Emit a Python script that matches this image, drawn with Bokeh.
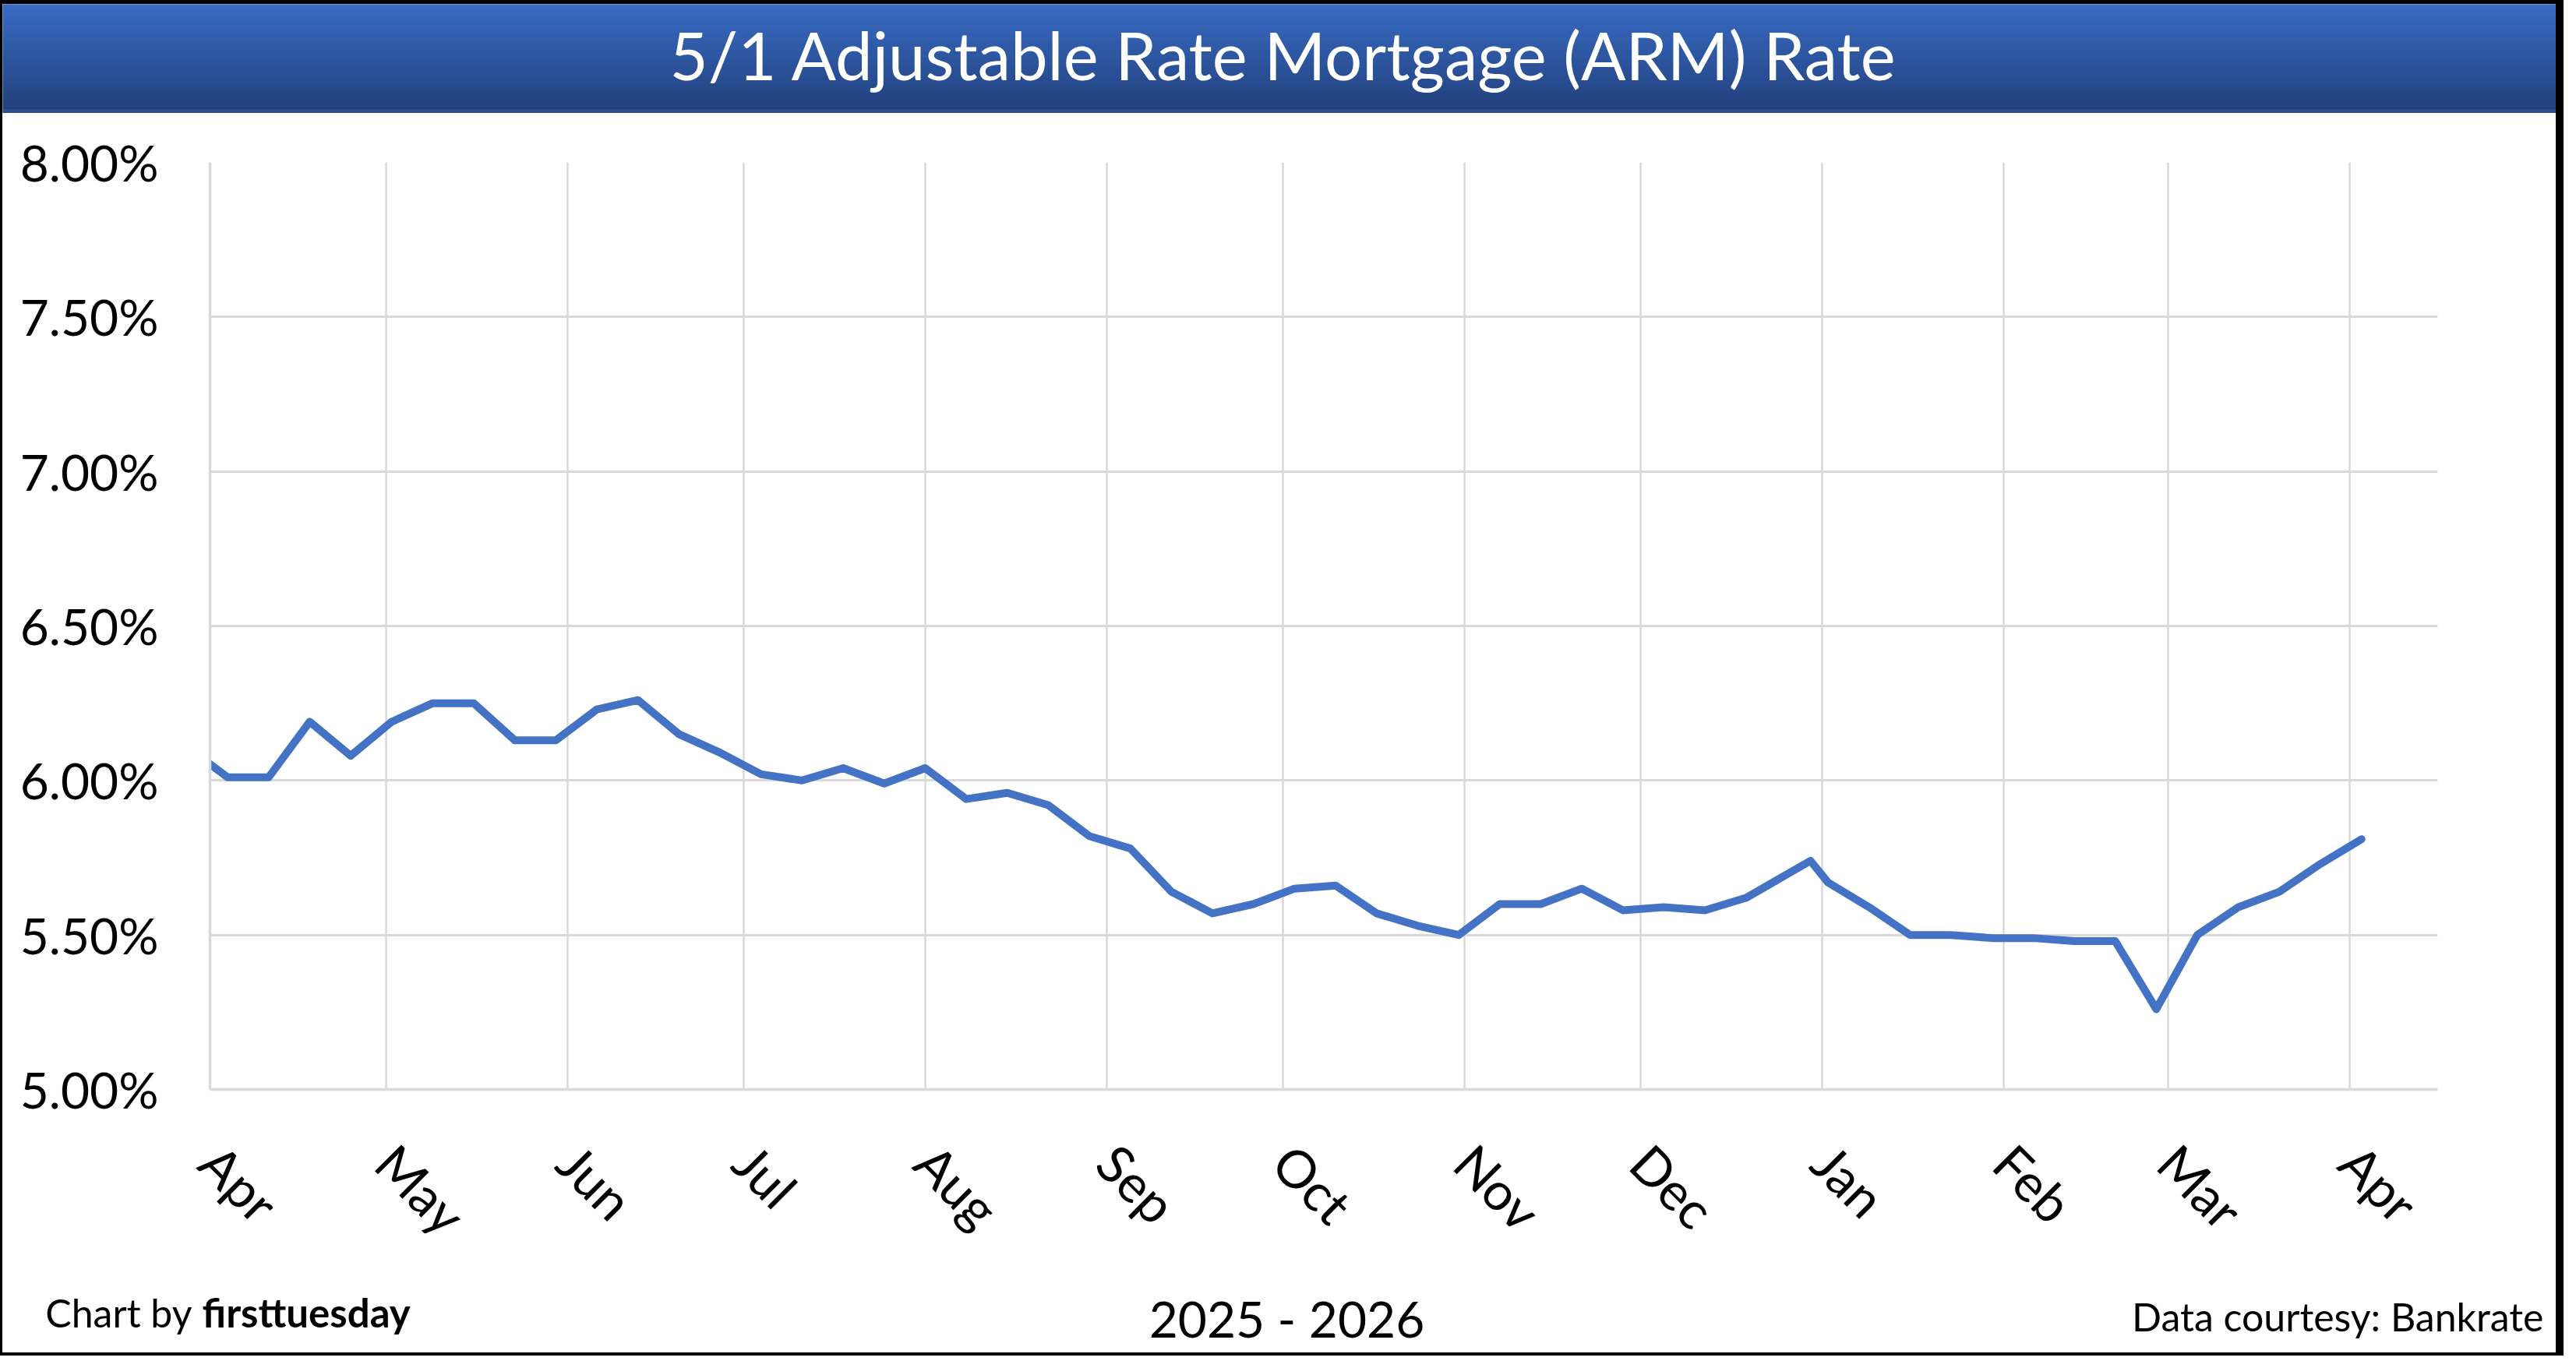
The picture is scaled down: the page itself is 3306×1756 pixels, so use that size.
import math
import pandas as pd
from bokeh.plotting import figure
from bokeh.models import (Range1d, MonthsTicker, DatetimeTickFormatter,
                          PrintfTickFormatter, FixedTicker, ColumnDataSource)
from bokeh.layouts import column
from bokeh.embed import file_html
from bokeh.resources import INLINE
from bokeh.core.properties import value

# ---------------- data ----------------
TITLE = "5/1 Adjustable Rate Mortgage (ARM) Rate"
FOOT_LEFT_A = "Chart by"
FOOT_LEFT_B = "firsttuesday"
FOOT_CENTER = "2025 - 2026"
FOOT_RIGHT = "Data courtesy: Bankrate"

week_dates = [
    "2025-03-28", "2025-04-04", "2025-04-11", "2025-04-18", "2025-04-25",
    "2025-05-02", "2025-05-09", "2025-05-16", "2025-05-23", "2025-05-30",
    "2025-06-06", "2025-06-13", "2025-06-20", "2025-06-27", "2025-07-04",
    "2025-07-11", "2025-07-18", "2025-07-25", "2025-08-01", "2025-08-08",
    "2025-08-15", "2025-08-22", "2025-08-29", "2025-09-05", "2025-09-12",
    "2025-09-19", "2025-09-26", "2025-10-03", "2025-10-10", "2025-10-17",
    "2025-10-24", "2025-10-31", "2025-11-07", "2025-11-14", "2025-11-21",
    "2025-11-28", "2025-12-05", "2025-12-12", "2025-12-19", "2025-12-30",
    "2026-01-02", "2026-01-09", "2026-01-16", "2026-01-23", "2026-01-30",
    "2026-02-06", "2026-02-13", "2026-02-20", "2026-02-27", "2026-03-06",
    "2026-03-13", "2026-03-20", "2026-03-27", "2026-04-03",
]
arm_rates = [
    6.11, 6.01, 6.01, 6.19, 6.08,
    6.19, 6.25, 6.25, 6.13, 6.13,
    6.23, 6.26, 6.15, 6.09, 6.02,
    6.00, 6.04, 5.99, 6.04, 5.94,
    5.96, 5.92, 5.82, 5.78, 5.64,
    5.57, 5.60, 5.65, 5.66, 5.57,
    5.53, 5.50, 5.60, 5.60, 5.65,
    5.58, 5.59, 5.58, 5.62, 5.74,
    5.67, 5.59, 5.50, 5.50, 5.49,
    5.49, 5.48, 5.48, 5.26, 5.50,
    5.59, 5.64, 5.73, 5.81,
]
y_ticks = [5.0, 5.5, 6.0, 6.5, 7.0, 7.5, 8.0]
x_start = "2025-04-01"
x_end = "2026-04-16"

# ---------------- layout constants ----------------
W = 3277
HDR_H = 140
MAIN_H = 1493
FTR_H = 98
FONT = "Lato"
LINE_BLUE = "#4472C4"
GRID = "#d9d9d9"

# ---------------- header (gradient bar + title) ----------------
hdr = figure(width=W, height=HDR_H, x_range=Range1d(0, W), y_range=Range1d(0, HDR_H),
             toolbar_location=None, output_backend="svg",
             x_axis_location=None, y_axis_location=None, min_border=0)
hdr.frame_align = False
hdr.grid.visible = False
hdr.outline_line_color = None
hdr.background_fill_color = "#2e5090"
hdr.border_fill_color = "#2e5090"

top_rgb = (59, 112, 203)
bot_rgb = (33, 63, 122)
band = 5
n = HDR_H - band
bottoms, tops, cols = [], [], []
for i in range(n):
    t = i / (n - 1)
    r = round(bot_rgb[0] + (top_rgb[0] - bot_rgb[0]) * t)
    g = round(bot_rgb[1] + (top_rgb[1] - bot_rgb[1]) * t)
    b = round(bot_rgb[2] + (top_rgb[2] - bot_rgb[2]) * t)
    bottoms.append(band + i)
    tops.append(band + i + 1.2)
    cols.append("#%02x%02x%02x" % (r, g, b))
hdr.quad(left=0, right=W, bottom=bottoms, top=tops, fill_color=cols, line_color=None)
hdr.quad(left=[0], right=[W], bottom=[0], top=[band], fill_color="#2e5090", line_color=None)
hdr.text(x=[1644], y=[76], text=[TITLE], text_align="center", text_baseline="alphabetic",
         text_font=value(FONT), text_font_size="85px", text_color="white")

# ---------------- main chart ----------------
src = ColumnDataSource(dict(date=pd.to_datetime(week_dates), rate=arm_rates))

p = figure(width=W, height=MAIN_H, x_axis_type="datetime",
           x_range=Range1d(pd.Timestamp(x_start), pd.Timestamp(x_end)),
           y_range=Range1d(y_ticks[0], y_ticks[-1]),
           toolbar_location=None, output_backend="svg",
           min_border_left=266, min_border_right=152, min_border_top=63, min_border_bottom=240)
p.frame_align = False
p.outline_line_color = None
p.background_fill_color = "white"
p.border_fill_color = "white"

month_ticker = MonthsTicker(months=list(range(12)))
p.xaxis.ticker = month_ticker
p.xgrid.ticker = month_ticker
p.xaxis.formatter = DatetimeTickFormatter(months="%b", days="%b", years="%b")
p.yaxis.ticker = FixedTicker(ticks=y_ticks)
p.yaxis.formatter = PrintfTickFormatter(format="%.2f%%")

for ax in (p.xaxis, p.yaxis):
    ax.axis_line_color = GRID
    ax.axis_line_width = 3.5
    ax.major_tick_line_color = None
    ax.minor_tick_line_color = None
    ax.major_tick_in = 0
    ax.major_tick_out = 0
    ax.major_label_text_font = FONT
    ax.major_label_text_color = "black"

p.yaxis.major_label_text_font_size = "64px"
p.yaxis.major_label_standoff = 66
p.xaxis.major_label_text_font_size = "67px"
p.xaxis.major_label_orientation = -math.pi / 4
p.xaxis.major_label_standoff = 82

p.xgrid.grid_line_color = GRID
p.xgrid.grid_line_width = 2.5
p.ygrid.grid_line_color = GRID
p.ygrid.grid_line_width = 3

p.line(x="date", y="rate", source=src, line_color=LINE_BLUE, line_width=10,
       line_join="round", line_cap="round")

# ---------------- footer ----------------
ftr = figure(width=W, height=FTR_H, x_range=Range1d(0, W), y_range=Range1d(0, FTR_H),
             toolbar_location=None, output_backend="svg",
             x_axis_location=None, y_axis_location=None, min_border=0)
ftr.frame_align = False
ftr.grid.visible = False
ftr.outline_line_color = None
ftr.background_fill_color = "white"
ftr.border_fill_color = "white"
ftr.text(x=[243], y=[52], text=[FOOT_LEFT_A], text_align="right", text_baseline="alphabetic",
         text_font=value(FONT), text_font_size="50px", text_color="black")
ftr.text(x=[256], y=[52], text=[FOOT_LEFT_B], text_align="left", text_baseline="alphabetic",
         text_font=value(FONT), text_font_size="51px", text_font_style="bold", text_color="black")
ftr.text(x=[1648], y=[44], text=[FOOT_CENTER], text_align="center", text_baseline="alphabetic",
         text_font=value(FONT), text_font_size="64px", text_color="black")
ftr.text(x=[3261], y=[47], text=[FOOT_RIGHT], text_align="right", text_baseline="alphabetic",
         text_font=value(FONT), text_font_size="50px", text_color="black")

layout = column(hdr, p, ftr, spacing=0,
                styles={"border-style": "solid", "border-color": "black",
                        "border-width": "5px 10px 4px 3px"})

open("out.html", "w").write(file_html(layout, INLINE))
